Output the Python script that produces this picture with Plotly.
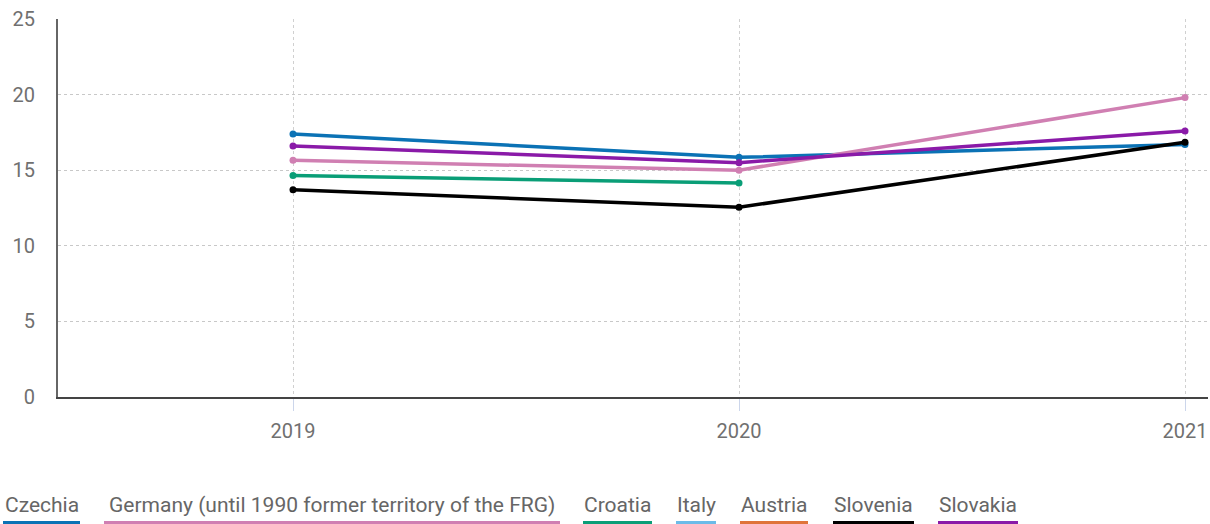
import plotly.graph_objects as go

years = [2019, 2020, 2021]
countries = ["Czechia", "Germany (until 1990 former territory of the FRG)", "Croatia",
             "Italy", "Austria", "Slovenia", "Slovakia"]
czechia = [17.4, 15.85, 16.7]
germany = [15.65, 15.0, 19.8]
croatia = [14.65, 14.15, None]
italy = [None, None, None]
austria = [None, None, None]
slovenia = [13.7, 12.55, 16.85]
slovakia = [16.6, 15.5, 17.6]
y_ticks = [0, 5, 10, 15, 20, 25]

series = [czechia, germany, croatia, italy, austria, slovenia, slovakia]
colors = ["#0b72b5", "#d07fb2", "#0a9e77", "#6cbbe8", "#e0743a", "#000000", "#8a1aa8"]

# legend item pixel extents (layout only)
legend_px = [(3, 80), (104, 560), (583, 652), (676, 716), (740, 808), (833, 914), (938, 1018)]

W, H = 1210, 524
L, R, T, B = 58, 2, 19, 127
pw, ph = W - L - R, H - T - B

fig = go.Figure()
for name, vals, col in zip(countries, series, colors):
    fig.add_trace(go.Scatter(
        x=years, y=vals, name=name, mode="lines+markers",
        line=dict(color=col, width=3.5), marker=dict(color=col, size=7),
        showlegend=False, connectgaps=False))

def px2x(p):
    return (p - L) / pw

def py2y(p):
    return (H - B - p) / ph

for (x0, x1), name, col in zip(legend_px, countries, colors):
    fig.add_annotation(x=px2x((x0 + x1) / 2), y=py2y(505), xref="paper", yref="paper",
                       text=name, showarrow=False, xanchor="center", yanchor="middle",
                       font=dict(family="Roboto", size=21, color="#666666"))
    fig.add_shape(type="line", xref="paper", yref="paper",
                  x0=px2x(x0), x1=px2x(x1), y0=py2y(522.5), y1=py2y(522.5),
                  line=dict(color=col, width=3))

fig.update_layout(
    width=W, height=H,
    margin=dict(l=L, r=R, t=T, b=B),
    paper_bgcolor="white", plot_bgcolor="white",
    font=dict(family="Roboto", size=20, color="#707070"),
    showlegend=False,
    xaxis=dict(
        range=[2019 - (293 - L) / 446, 2021 + (W - R - 1185) / 446],
        tickvals=years, ticktext=[str(y) for y in years],
        showgrid=True, gridcolor="#d0d0d0", griddash="dot", gridwidth=1,
        showline=True, linecolor="#444444", linewidth=2,
        ticks="outside", ticklen=12, tickcolor="#ccd6eb", tickwidth=1,
        zeroline=False, ticklabelstandoff=3,
    ),
    yaxis=dict(
        range=[0, 25], tickvals=y_ticks,
        showgrid=True, gridcolor="#c8c8c8", griddash="dot", gridwidth=1,
        showline=True, linecolor="#666666", linewidth=2,
        zeroline=False, ticks="", ticklabelstandoff=17,
    ),
)

fig.write_html("out.html", config={"displayModeBar": False},
               post_script="document.body.style.margin='0';document.body.style.overflow='hidden';")
